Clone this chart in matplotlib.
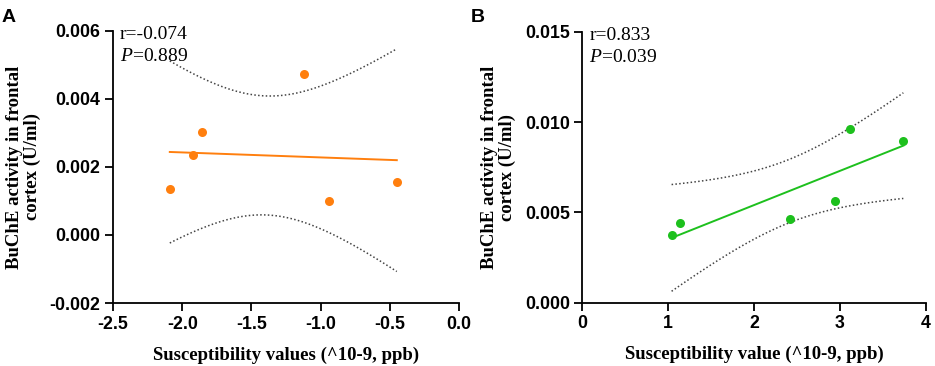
import numpy as np
import matplotlib
matplotlib.use("Agg")
import matplotlib.pyplot as plt

plt.rcParams["mathtext.fontset"] = "custom"
plt.rcParams["mathtext.it"] = "Liberation Serif:italic"
plt.rcParams["mathtext.rm"] = "Liberation Serif"

# Data panel A
a_x = [-2.09, -1.92, -1.86, -1.12, -0.94, -0.45]
a_y = [0.00134, 0.00235, 0.00303, 0.00473, 0.00101, 0.00156]
a_xticks = [-2.5, -2.0, -1.5, -1.0, -0.5, 0.0]
a_yticks = [-0.002, 0.000, 0.002, 0.004, 0.006]
a_xticklabels = ["-2.5", "-2.0", "-1.5", "-1.0", "-0.5", "0.0"]
a_yticklabels = ["-0.002", "0.000", "0.002", "0.004", "0.006"]

# Data panel B
b_x = [1.04, 1.14, 2.42, 2.945, 3.12, 3.74]
b_y = [0.00373, 0.00439, 0.00465, 0.00565, 0.00961, 0.00895]
b_xticks = [0, 1, 2, 3, 4]
b_yticks = [0.000, 0.005, 0.010, 0.015]
b_xticklabels = ["0", "1", "2", "3", "4"]
b_yticklabels = ["0.000", "0.005", "0.010", "0.015"]

T_CRIT_4DF = 2.776

def fit_band(x, y, n=100):
    x = np.asarray(x); y = np.asarray(y)
    slope, inter = np.polyfit(x, y, 1)
    xs = np.linspace(x.min(), x.max(), n)
    yhat = slope * xs + inter
    resid = y - (slope * x + inter)
    s = np.sqrt(np.sum(resid**2) / (len(x) - 2))
    se = s * np.sqrt(1/len(x) + (xs - x.mean())**2 / np.sum((x - x.mean())**2))
    return xs, yhat, yhat - T_CRIT_4DF * se, yhat + T_CRIT_4DF * se

fig = plt.figure(figsize=(9.35, 3.66), dpi=100)
axA = fig.add_axes([0.1209, 0.172, 0.3701, 0.744])
axB = fig.add_axes([0.6228, 0.173, 0.3672, 0.740])

tick_font = dict(family="Liberation Sans", weight="bold", size=12.8)
label_font = dict(family="Liberation Serif", weight="bold", size=13.5)

def style(ax, xlim, ylim, xticks, yticks, xtl, ytl, xlabel):
    ax.set_xlim(*xlim); ax.set_ylim(*ylim)
    for s in ["top", "right"]:
        ax.spines[s].set_visible(False)
    for s in ["left", "bottom"]:
        ax.spines[s].set_linewidth(1.3)
    ax.set_xticks(xticks); ax.set_yticks(yticks)
    ax.set_xticklabels(xtl, fontdict=tick_font)
    ax.set_yticklabels(ytl, fontdict=tick_font)
    ax.tick_params(direction="out", length=6, width=1.3, pad=3)
    ax.set_xlabel(xlabel, fontdict=label_font, labelpad=10)
    ax.set_ylabel("BuChE activity in frontal\ncortex (U/ml)", fontdict=label_font,
                  labelpad=6, linespacing=1.1)

def draw(ax, x, y, color):
    xs, yhat, lo, hi = fit_band(x, y)
    ax.plot(xs, lo, color="#444444", ls=(0, (1, 1.5)), lw=1.1)
    ax.plot(xs, hi, color="#444444", ls=(0, (1, 1.5)), lw=1.1)
    ax.plot(xs, yhat, color=color, lw=1.4)
    ax.plot(x, y, "o", color=color, ms=6.5, mec="none", clip_on=False)

draw(axA, a_x, a_y, "#FF7F0E")
style(axA, (-2.5, 0.0), (-0.002, 0.006), a_xticks, a_yticks, a_xticklabels, a_yticklabels,
      "Susceptibility values (^10-9, ppb)")
draw(axB, b_x, b_y, "#1DC01D")
style(axB, (0, 4), (0.0, 0.015), b_xticks, b_yticks, b_xticklabels, b_yticklabels,
      "Susceptibility value (^10-9, ppb)")

for ax, r, p in [(axA, "r=-0.074", "0.889"), (axB, "r=0.833", "0.039")]:
    ax.text(0.02, 0.985, r, transform=ax.transAxes, ha="left", va="center",
            family="Liberation Serif", size=14)
    ax.text(0.02, 0.905, r"$\mathit{P}$=" + p, transform=ax.transAxes, ha="left", va="center",
            family="Liberation Serif", size=14)

fig.text(0.002, 0.975, "A", family="Liberation Sans", weight="bold", size=14, va="top", ha="left")
fig.text(0.503, 0.975, "B", family="Liberation Sans", weight="bold", size=14, va="top", ha="left")

fig.savefig("out.png", dpi=100)
